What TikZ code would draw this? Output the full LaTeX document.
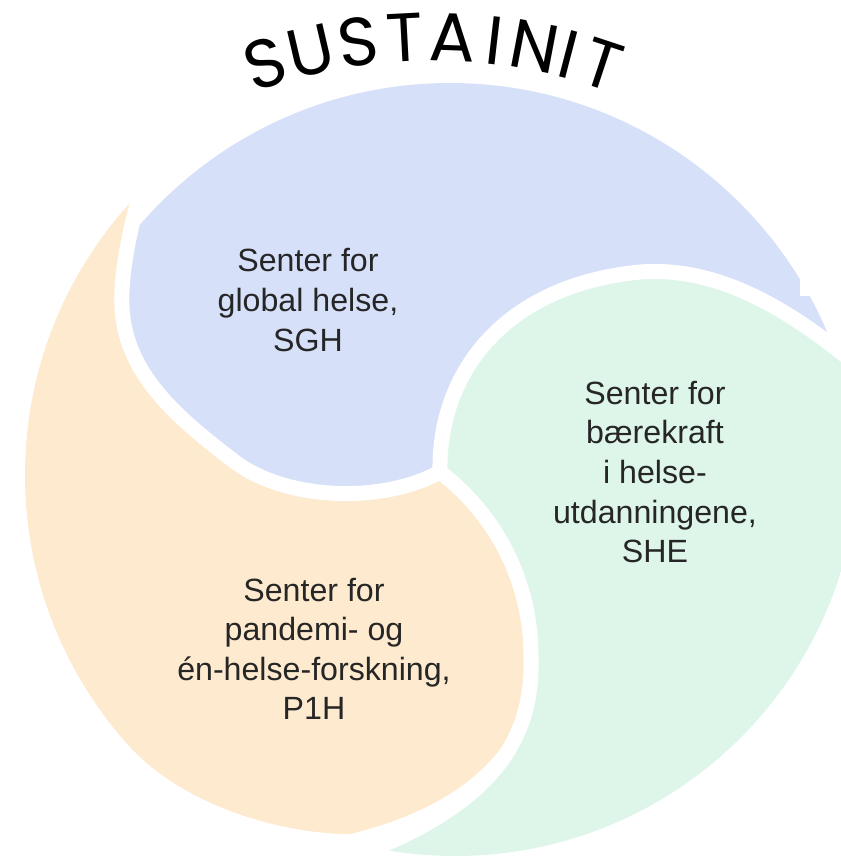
\documentclass[tikz,border=0pt]{standalone}
\usepackage{fontspec}
\setmainfont{Liberation Sans}
\newfontfamily\titlefont{Poppins}
\usetikzlibrary{calc}
\definecolor{sghblue}{RGB}{214,224,249}
\definecolor{shegreen}{RGB}{222,246,234}
\definecolor{pohorange}{RGB}{253,234,207}
\definecolor{inktext}{RGB}{38,38,38}

\begin{document}
\begin{tikzpicture}[x=0.02cm,y=-0.02cm,
    sep/.style={white,line width=0.3cm,line cap=round,line join=round},
    centre/.style={align=center,text=inktext,font=\fontsize{18.3}{22.5}\selectfont},
    letter/.style={font=\titlefont\fontsize{39}{39}\selectfont,inner sep=0pt}]
  \useasboundingbox (0,0) rectangle (841,856);
  \clip (0,0) rectangle (841,856);
  \coordinate (hub) at (440,472);
  \coordinate (bluec) at (450,493);
  \coordinate (greenc) at (455,452);
  \coordinate (orangec) at (430,475);
  % blue piece, cut out of its own circle
  \begin{scope}
    \clip (bluec) circle[radius=410];
    \fill[sghblue] (hub) .. controls (380,505) and (280,500) .. (230,458)
      .. controls (160,405) and (118,360) .. (122,290)
      .. controls (124,255) and (133,215) .. (146,175)
      -- (100,100) -- (100,-50) -- (950,-50) -- (950,400) -- (880,385)
      .. controls (795,310) and (720,266) .. (640,272)
      .. controls (505,285) and (438,372) .. (hub) -- cycle;
  \end{scope}
  % green piece
  \begin{scope}
    \clip (greenc) circle[radius=404];
    \fill[shegreen] (hub) .. controls (438,372) and (505,285) .. (640,272)
      .. controls (720,266) and (795,310) .. (880,385)
      -- (950,385) -- (950,950) -- (330,950) -- (330,865)
      .. controls (480,815) and (533,750) .. (531,660)
      .. controls (532,575) and (490,510) .. (hub) -- cycle;
  \end{scope}
  % orange piece, round at the bottom
  \begin{scope}
    \clip (orangec) circle[radius=405];
    \fill[pohorange] (hub) .. controls (490,510) and (532,575) .. (531,660)
      .. controls (530,740) and (470,805) .. (350,834)
      .. controls (280,834) and (185,805) .. (133,750)
      -- (60,850) -- (-50,900) -- (-50,100) -- (146,175)
      .. controls (133,215) and (124,255) .. (122,290)
      .. controls (118,360) and (160,405) .. (230,458)
      .. controls (280,500) and (380,505) .. (hub) -- cycle;
  \end{scope}
  % white gaps from the hub outwards
  \draw[sep] (hub) .. controls (380,505) and (280,500) .. (230,458)
    .. controls (160,405) and (118,360) .. (122,290)
    .. controls (124,255) and (133,215) .. (146,175);
  \draw[sep] (hub) .. controls (438,372) and (505,285) .. (640,272)
    .. controls (720,266) and (795,310) .. (880,385);
  \draw[sep] (hub) .. controls (490,510) and (532,575) .. (531,660)
    .. controls (533,750) and (480,815) .. (330,865);
  \fill[white] (800,150) rectangle (841,296);

  \node[centre] (sgh) at (308,300) {Senter for\\global helse,\\SGH};
  \node[centre] (she) at (655,472) {Senter for\\bærekraft\\i helse-\\utdanningene,\\SHE};
  \node[centre] (p1h) at (314,649) {Senter for\\pandemi- og\\én-helse-forskning,\\P1H};

  % title bent over the top
  \coordinate (arc) at (433,577);
  \foreach \ch/\ang [count=\i, evaluate=\ang as \rot using \ang-90] in {S/108.1,U/103.1,S/98.0,T/93.0,A/87.9,I/83.4,N/79.2,I/75.4,T/71.7}
    \node[letter,rotate=\rot] (t\i) at ($(arc)+(-\ang:540)$) {\ch};
\end{tikzpicture}
\end{document}
